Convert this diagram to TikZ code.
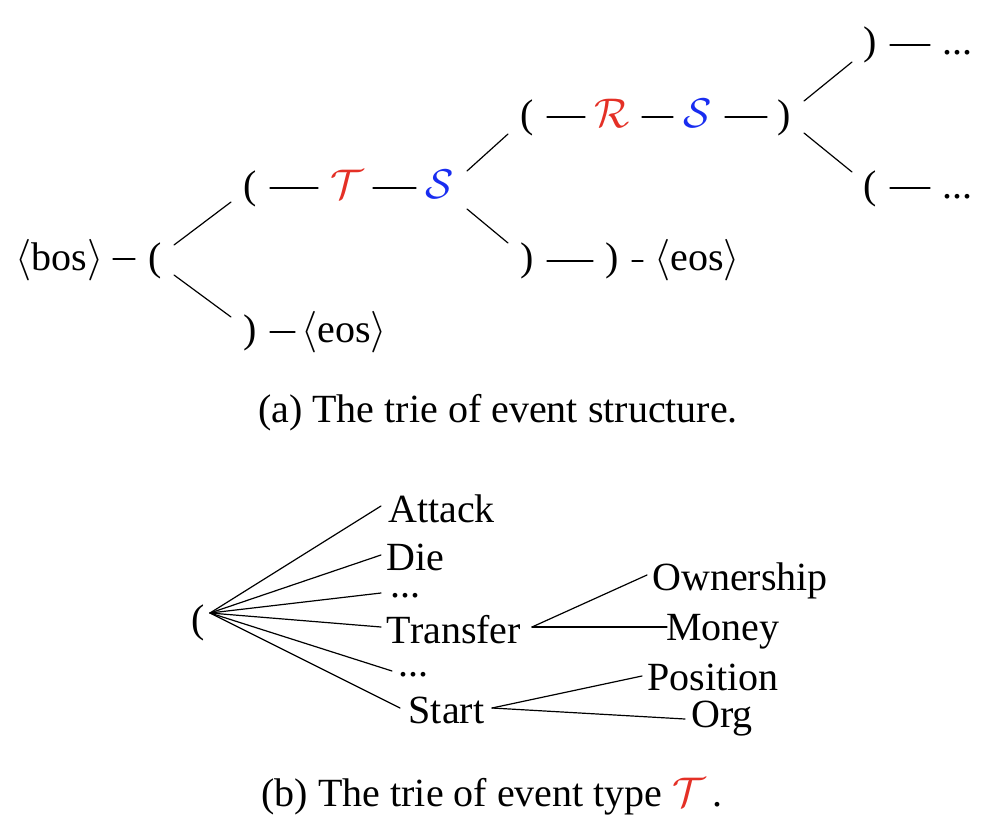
\documentclass[tikz,border=0pt]{standalone}
\usepackage{fontspec}
\setmainfont{Liberation Serif}
\definecolor{tred}{RGB}{228,48,38}
\definecolor{tblue}{RGB}{25,45,240}
\newcommand{\Tc}{{\color{tred}$\mathcal{T}$}}
\newcommand{\Rc}{{\color{tred}$\mathcal{R}$}}
\newcommand{\Sc}{{\color{tblue}$\mathcal{S}$}}
\begin{document}
\begin{tikzpicture}[x=0.5pt,y=-0.5pt,
  lbl/.style={inner sep=0pt, anchor=base, font=\fontsize{20}{24}\selectfont},
  ln/.style={line width=0.6pt, line cap=round}]
\useasboundingbox (0,0) rectangle (1006,824);
% ---------- (a) ----------
\node[lbl] (bos) at (59.5,270) {$\langle$bos$\rangle$};
\node[lbl] (p1) at (155,270) {(};
\node[lbl] (p2) at (250,198) {(};
\node[lbl] (T) at (347,198) {\Tc};
\node[lbl] (S1) at (440,198) {\Sc};
\node[lbl] (c1) at (250,342) {)};
\node[lbl] (eos1) at (344,342) {$\langle$eos$\rangle$};
\node[lbl] (p3) at (527.5,127) {(};
\node[lbl] (R) at (612,127) {\Rc};
\node[lbl] (S2) at (698,127) {\Sc};
\node[lbl] (c2) at (784,127) {)};
\node[lbl] (c3) at (527,270) {)};
\node[lbl] (c4) at (612,270) {)};
\node[lbl] (eos2) at (697,270) {$\langle$eos$\rangle$};
\node[lbl] (c5) at (870,55) {)};
\node[lbl] (d1) at (957,55) {...};
\node[lbl] (p4) at (870,198) {(};
\node[lbl] (d2) at (957,198) {...};
% dashes
\draw[ln] ([shift={(53.5,-11)}]bos.base) -- ([shift={(-20,-11)}]p1.base);
\draw[ln] ([shift={(20,-10)}]p2.base) -- ([shift={(-29,-10)}]T.base);
\draw[ln] ([shift={(26,-10)}]T.base) -- ([shift={(-24,-10)}]S1.base);
\draw[ln] ([shift={(20,-10)}]c1.base) -- ([shift={(-49,-10)}]eos1.base);
\draw[ln] ([shift={(19.5,-10)}]p3.base) -- ([shift={(-27,-10)}]R.base);
\draw[ln] ([shift={(30,-10)}]R.base) -- ([shift={(-25,-10)}]S2.base);
\draw[ln] ([shift={(27,-10)}]S2.base) -- ([shift={(-17,-10)}]c2.base);
\draw[ln] ([shift={(20,-9)}]c3.base) -- ([shift={(-19,-9)}]c4.base);
\draw[ln] ([shift={(20,-9)}]c4.base) -- ([shift={(-54,-9)}]eos2.base);
\draw[ln] ([shift={(20,-10)}]c5.base) -- ([shift={(-27,-10)}]d1.base);
\draw[ln] ([shift={(20,-10)}]p4.base) -- ([shift={(-27,-10)}]d2.base);
% branches
\draw[ln] ([shift={(19,-25)}]p1.base) -- ([shift={(-19,4)}]p2.base);
\draw[ln] ([shift={(19,5)}]p1.base) -- ([shift={(-19,-25)}]c1.base);
\draw[ln] ([shift={(27,-27)}]S1.base) -- ([shift={(-19.5,7)}]p3.base);
\draw[ln] ([shift={(27,11)}]S1.base) -- ([shift={(-19,-27)}]c3.base);
\draw[ln] ([shift={(20,-26)}]c2.base) -- ([shift={(-18,7)}]c5.base);
\draw[ln] ([shift={(20,6)}]c2.base) -- ([shift={(-18,-26)}]p4.base);
\node[lbl] (capa) at (498,422) {(a) The trie of event structure.};
% ---------- (b) ----------
\node[lbl] (po) at (198,632) {(};
\node[lbl] (att) at (441.5,522) {Attack};
\node[lbl] (die) at (415.5,570) {Die};
\node[lbl] (d3) at (405,597) {...};
\node[lbl] (tra) at (454,643) {Transfer};
\node[lbl] (d4) at (413.5,676) {...};
\node[lbl] (sta) at (446.5,723) {Start};
\node[lbl] (own) at (740,590) {Ownership};
\node[lbl] (mon) at (723,640) {Money};
\node[lbl] (pos) at (713,690) {Position};
\node[lbl] (org) at (722,727) {Org};
\coordinate (fan) at ([shift={(12,-19)}]po.base);
\draw[ln] (fan) -- ([shift={(-60.5,-16)}]att.base);
\draw[ln] (fan) -- ([shift={(-34.5,-15)}]die.base);
\draw[ln] (fan) -- ([shift={(-24,-4)}]d3.base);
\draw[ln] (fan) -- ([shift={(-73,-16)}]tra.base);
\draw[ln] (fan) -- ([shift={(-21.5,-5)}]d4.base);
\draw[ln] (fan) -- ([shift={(-46.5,-15)}]sta.base);
\draw[ln] ([shift={(78,-16)}]tra.base) -- ([shift={(-93,-15)}]own.base);
\draw[ln] ([shift={(78,-16)}]tra.base) -- ([shift={(-56,-13)}]mon.base);
\draw[ln] ([shift={(45.5,-15)}]sta.base) -- ([shift={(-71,-14)}]pos.base);
\draw[ln] ([shift={(45.5,-15)}]sta.base) -- ([shift={(-37,-8)}]org.base);
\node[lbl] (capb) at (492,806) {(b) The trie of event type \Tc\,.};
\end{tikzpicture}
\end{document}
